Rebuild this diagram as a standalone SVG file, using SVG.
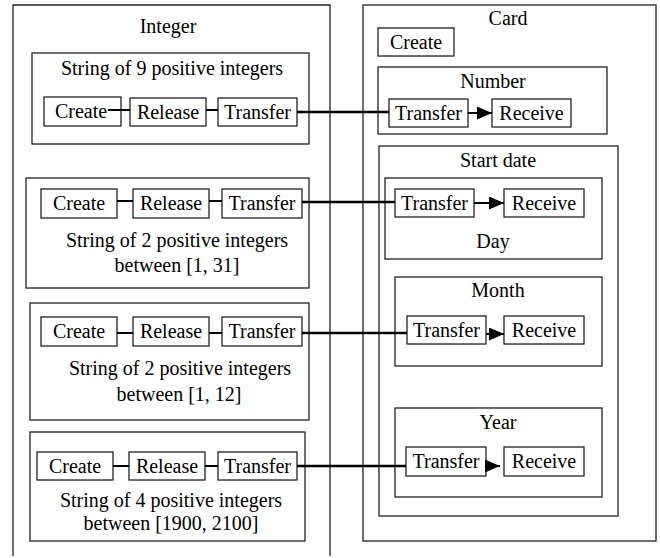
<svg xmlns="http://www.w3.org/2000/svg" width="660" height="558" viewBox="0 0 660 558" font-family="Liberation Serif, DejaVu Serif, serif">
<style>
.box{fill:#fff;stroke:#222;stroke-width:1.3}
.frame{fill:none;stroke:#222;stroke-width:1.3}
text{font-family:"Liberation Serif","DejaVu Serif",serif}
.t{font-size:20px;fill:#000;text-anchor:middle}
.link{stroke:#000;stroke-width:2;fill:none}
.conn{stroke:#000;stroke-width:2.6;fill:none}
</style>
<defs>
<marker id="ah" markerUnits="userSpaceOnUse" markerWidth="16" markerHeight="14" refX="15" refY="6.5" orient="auto">
<polygon points="0,0 15,6.5 0,13" fill="#000"/>
</marker>
</defs>
<rect width="660" height="558" fill="#fff"/>

<g id="integer">
<path class="frame" d="M13,556 V5 H330 V556"/>
<text class="t" x="168" y="33" font-family="Liberation Serif, serif">Integer</text>
</g>

<g id="card">
<rect class="box" x="363" y="5" width="293" height="536"/>
<text class="t" x="508" y="25">Card</text>
</g>

<g id="card-create">
<rect class="box" x="378" y="28" width="76" height="28"/>
<text class="t" x="416" y="49">Create</text>
</g>

<g id="number">
<rect class="box" x="378" y="67" width="229" height="67"/>
<text class="t" x="493" y="88">Number</text>
<rect class="box" x="389" y="99" width="79" height="28"/>
<text class="t" x="428.5" y="120">Transfer</text>
<rect class="box" x="492" y="99" width="79" height="28"/>
<text class="t" x="531.5" y="120">Receive</text>
</g>

<g id="start-date">
<rect class="box" x="379" y="146" width="239" height="370"/>
<text class="t" x="498" y="167">Start date</text>
</g>

<g id="day">
<rect class="box" x="385" y="178" width="217" height="81"/>
<rect class="box" x="395" y="189" width="79" height="28"/>
<text class="t" x="434.5" y="210">Transfer</text>
<rect class="box" x="504" y="189" width="80" height="28"/>
<text class="t" x="544" y="210">Receive</text>
<text class="t" x="493" y="248">Day</text>
</g>

<g id="month">
<rect class="box" x="395" y="277" width="207" height="89"/>
<text class="t" x="498" y="297">Month</text>
<rect class="box" x="407" y="316" width="79" height="28"/>
<text class="t" x="446.5" y="337">Transfer</text>
<rect class="box" x="504" y="316" width="80" height="28"/>
<text class="t" x="544" y="337">Receive</text>
</g>

<g id="year">
<rect class="box" x="395" y="408" width="207" height="89"/>
<text class="t" x="498" y="429">Year</text>
<rect class="box" x="406" y="447" width="80" height="29"/>
<text class="t" x="446" y="468">Transfer</text>
<rect class="box" x="504" y="447" width="80" height="29"/>
<text class="t" x="544" y="468">Receive</text>
</g>

<g id="string9">
<rect class="box" x="32" y="53" width="277" height="91"/>
<text class="t" x="172" y="75">String of 9 positive integers</text>
<rect class="box" x="44" y="97" width="77" height="29"/>
<text class="t" x="81" y="118">Create</text>
<rect class="box" x="130" y="98" width="76" height="28"/>
<text class="t" x="168" y="119">Release</text>
<rect class="box" x="218" y="98" width="79" height="28"/>
<text class="t" x="257.5" y="119">Transfer</text>
</g>

<g id="string2-31">
<rect class="box" x="26" y="178" width="283" height="110"/>
<rect class="box" x="41" y="189" width="76" height="29"/>
<text class="t" x="79" y="210">Create</text>
<rect class="box" x="133" y="189" width="76" height="29"/>
<text class="t" x="171" y="210">Release</text>
<rect class="box" x="222" y="189" width="80" height="29"/>
<text class="t" x="262" y="210">Transfer</text>
<text class="t" x="177" y="247">String of 2 positive integers</text>
<text class="t" x="177" y="272">between [1, 31]</text>
</g>

<g id="string2-12">
<rect class="box" x="30" y="303" width="279" height="117"/>
<rect class="box" x="41" y="317" width="76" height="29"/>
<text class="t" x="79" y="338">Create</text>
<rect class="box" x="133" y="317" width="76" height="29"/>
<text class="t" x="171" y="338">Release</text>
<rect class="box" x="222" y="317" width="80" height="29"/>
<text class="t" x="262" y="338">Transfer</text>
<text class="t" x="180" y="375">String of 2 positive integers</text>
<text class="t" x="179" y="401">between [1, 12]</text>
</g>

<g id="string4">
<rect class="box" x="30" y="432" width="275" height="109"/>
<rect class="box" x="37" y="452" width="76" height="28"/>
<text class="t" x="75" y="473">Create</text>
<rect class="box" x="129" y="452" width="76" height="28"/>
<text class="t" x="167" y="473">Release</text>
<rect class="box" x="218" y="452" width="79" height="28"/>
<text class="t" x="257.5" y="473">Transfer</text>
<text class="t" x="171" y="507">String of 4 positive integers</text>
<text class="t" x="171" y="530">between [1900, 2100]</text>
</g>

<g id="connectors">
<line class="link" x1="108" y1="110" x2="130" y2="110"/>
<line class="link" x1="206" y1="110" x2="218" y2="110"/>
<line class="link" x1="117" y1="201" x2="133" y2="201"/>
<line class="link" x1="209" y1="201" x2="222" y2="201"/>
<line class="link" x1="117" y1="333" x2="133" y2="333"/>
<line class="link" x1="209" y1="333" x2="222" y2="333"/>
<line class="link" x1="113" y1="466" x2="129" y2="466"/>
<line class="link" x1="205" y1="466" x2="218" y2="466"/>
<line class="conn" x1="297" y1="112" x2="389" y2="112"/>
<line class="conn" x1="302" y1="202" x2="395" y2="202"/>
<line class="conn" x1="302" y1="333" x2="407" y2="333"/>
<line class="conn" x1="297" y1="466" x2="406" y2="466"/>
<line class="link" x1="468" y1="113" x2="492" y2="113" marker-end="url(#ah)"/>
<line class="link" x1="474" y1="203" x2="504" y2="203" marker-end="url(#ah)"/>
<line class="link" x1="486" y1="334" x2="504" y2="334" marker-end="url(#ah)"/>
<line class="link" x1="486" y1="466" x2="500" y2="466" marker-end="url(#ah)"/>
</g>
</svg>
